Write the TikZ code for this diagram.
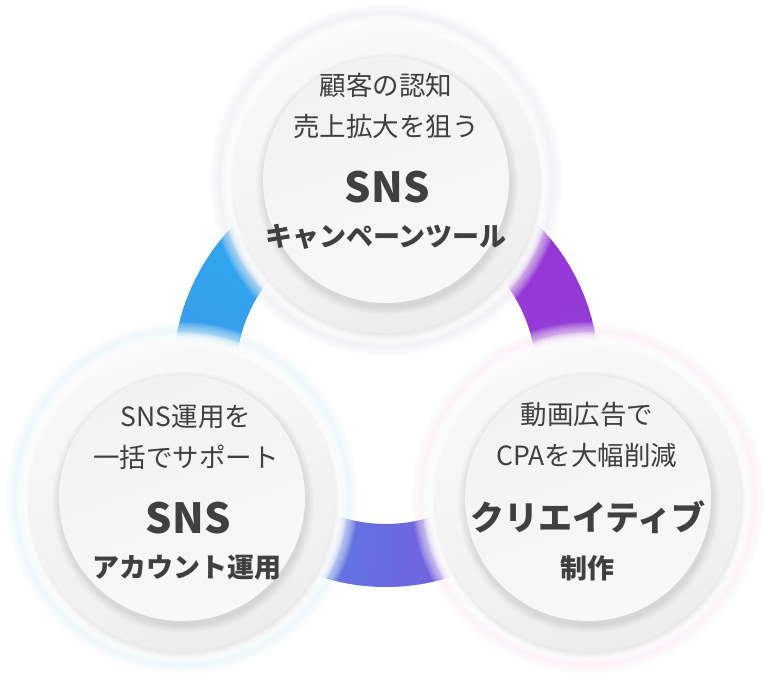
\documentclass[tikz,border=0pt]{standalone}
\usepackage{fontspec}
\newfontfamily\jp{Noto Sans CJK JP}
\newfontfamily\jpsp{Noto Sans CJK JP}[LetterSpace=1.5]
\definecolor{txt}{HTML}{404040}
\definecolor{c1}{HTML}{2BAAF0}
\definecolor{c2}{HTML}{3A9BEA}
\definecolor{c3}{HTML}{5A7DE3}
\definecolor{c4}{HTML}{6A6BE0}
\definecolor{c5}{HTML}{7A5ADC}
\definecolor{c6}{HTML}{9140D8}
\definecolor{c7}{HTML}{9A30D6}
\definecolor{glowT}{HTML}{F0F1F6}
\definecolor{glowL}{HTML}{EBF8FB}
\definecolor{glowR}{HTML}{FCF0F9}
\definecolor{outA}{HTML}{F9F9F9}
\definecolor{outB}{HTML}{EDEDEE}
\definecolor{inA}{HTML}{F2F2F2}
\definecolor{inB}{HTML}{F8F8F8}
\tikzset{
  reg/.style={font=\jp\fontsize{26.5}{30}\selectfont, text=txt, inner sep=0pt},
  big/.style={font=\jpsp\bfseries\fontsize{41.5}{44}\selectfont, text=txt, inner sep=0pt},
  sub/.style={font=\jp\bfseries\fontsize{27}{30}\selectfont, text=txt, inner sep=0pt},
}
\newcommand\drawbubble[3]{%
  \begin{scope}[shift={(#1,#2)}]
    \foreach \i in {0,...,21} {\fill[#3, opacity=0.09] (0,0) circle (176-\i);}
    \foreach \i in {0,...,11} {\fill[white, opacity=0.22] (0,0) circle (166-\i);}
    \foreach \i in {0,...,5} {\fill[black, opacity=0.01] (1,-4) circle (156-\i);}
    \shade[top color=outA, bottom color=outB, shading angle=20] (0,0) circle (153);
    \foreach \i in {0,...,7} {\fill[black, opacity=0.013] (1,-4) circle (131-\i);}
    \shade[top color=inA, bottom color=inB, shading angle=20] (0,0) circle (123);
  \end{scope}%
}
\begin{document}
\begin{tikzpicture}[x=1pt,y=1pt]
\useasboundingbox (0,0) rectangle (771,-686);
\fill[white] (0,0) rectangle (771,-686);
\coordinate (ring) at (386,-374);
\foreach \a/\b/\ca/\cb in {120/180/c1/c2,180/240/c2/c3,240/270/c3/c4,270/300/c4/c5,300/360/c5/c6,360/420/c6/c7}{
  \foreach \s in {0,...,19}{
    \pgfmathsetmacro{\ta}{\a+(\b-\a)*\s/20}
    \pgfmathsetmacro{\tb}{\a+(\b-\a)*(\s+1)/20+0.3}
    \pgfmathsetmacro{\p}{100*\s/20}
    \fill[\cb!\p!\ca] ([shift={(\ta:213)}]ring) arc[start angle=\ta,end angle=\tb,radius=213] -- ([shift={(\tb:150)}]ring) arc[start angle=\tb,end angle=\ta,radius=150] -- cycle;
  }
}
\drawbubble{386}{-180}{glowT}
\drawbubble{182}{-498}{glowL}
\drawbubble{588}{-498}{glowR}
% top
\node[reg] (t1) at (386,-85) {顧客の認知};
\node[reg] (t2) at (386,-126) {売上拡大を狙う};
\node[big] (t3) at (387,-187) {SNS};
\node[sub] (t4) at (386,-237) {キャンペーンツール};
% left
\node[reg] (l1) at (186,-417) {SNS運用を};
\node[reg] (l2) at (186,-457) {一括でサポート};
\node[big] (l3) at (188,-518) {SNS};
\node[sub] (l4) at (187,-568) {アカウント運用};
% right
\node[reg] (r1) at (587,-415) {動画広告で};
\node[reg] (r2) at (587,-455) {CPAを大幅削減};
\node[sub,font=\jp\bfseries\fontsize{34}{40}\selectfont] (r3) at (588,-517) {クリエイティブ};
\node[sub] (r4) at (587,-568) {制作};
\end{tikzpicture}
\end{document}
